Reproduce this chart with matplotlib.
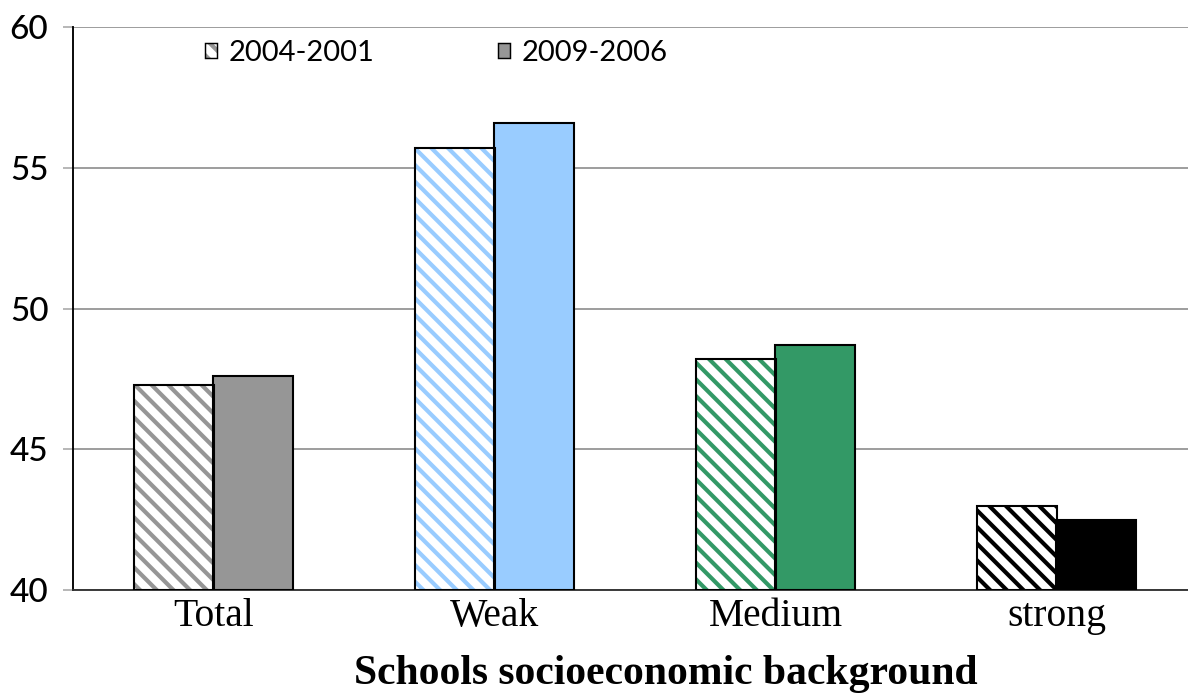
import matplotlib
matplotlib.use("Agg")
import matplotlib.pyplot as plt
from matplotlib.patches import Patch
import numpy as np

categories = ["Total", "Weak", "Medium", "strong"]
period_2004_2001 = [47.3, 55.7, 48.2, 43.0]
period_2009_2006 = [47.6, 56.6, 48.7, 42.5]
series_labels = ["2004-2001", "2009-2006"]
bar_colors = ["#969696", "#99ccff", "#339966", "#000000"]
y_ticks = [40, 45, 50, 55, 60]

DPI = 150
W, H = 1188, 695
plt.rcParams["hatch.linewidth"] = 2.0

fig = plt.figure(figsize=(W / DPI, H / DPI), dpi=DPI)
left_px, bottom_px, top_px = 73, 105, 27
ax = fig.add_axes([left_px / W, bottom_px / H, 1 - left_px / W,
                   (H - bottom_px - top_px) / H])

x = np.arange(len(categories))
width = 0.285
offset = 0.142

for xi, v1, v2, c in zip(x, period_2004_2001, period_2009_2006, bar_colors):
    # hatched bar: stripes drawn in the category colour, outline in black
    ax.bar(xi - offset, v1 - 40, width, bottom=40, color="white",
           edgecolor=c, hatch="\\\\\\", linewidth=0, zorder=3)
    ax.bar(xi - offset, v1 - 40, width, bottom=40, fill=False,
           edgecolor="black", linewidth=1.0, zorder=4)
    ax.bar(xi + offset, v2 - 40, width, bottom=40, color=c,
           edgecolor="black", linewidth=1.0, zorder=3)

span = 4 * (W - left_px) / 1124
ax.set_xlim(-0.5, -0.5 + span)
ax.set_ylim(40, 60)
ax.set_yticks(y_ticks)
ax.set_yticklabels([str(t) for t in y_ticks], family="Lato", fontsize=16,
                   fontweight="medium")
ax.set_xticks(x)
ax.set_xticklabels(categories, family="Liberation Serif", fontsize=19)
ax.tick_params(axis="x", length=0, pad=4)
ax.tick_params(axis="y", length=4.8, width=0.8, color="#aaaaaa", pad=7)

ax.grid(axis="y", color="#8c8c8c", linewidth=0.8, zorder=0)
ax.set_axisbelow(True)
for s in ["top", "right"]:
    ax.spines[s].set_visible(False)
ax.spines["left"].set_color("black")
ax.spines["left"].set_linewidth(0.9)
ax.spines["bottom"].set_color("#333333")
ax.spines["bottom"].set_linewidth(0.9)

ax.set_xlabel("Schools socioeconomic background", family="Liberation Serif",
              fontweight="bold", fontsize=20, labelpad=9.5)
ax.xaxis.label.set_x(0.532)

hatched_handle = (Patch(facecolor="white", edgecolor="#969696", hatch="\\\\\\",
                        linewidth=0),
                  Patch(fill=False, edgecolor="black", linewidth=0.7))
solid_handle = Patch(facecolor="#969696", edgecolor="black", linewidth=0.7)
leg = fig.legend([hatched_handle, solid_handle], series_labels,
                 loc="upper left", bbox_to_anchor=(205 / W, 1 - 40 / H),
                 ncol=2, frameon=False,
                 prop={"family": "Lato", "size": 14},
                 handlelength=0.4, handleheight=0.4, handletextpad=0.4,
                 columnspacing=4.25, borderpad=0, borderaxespad=0)

fig.savefig("out.png", dpi=DPI)
